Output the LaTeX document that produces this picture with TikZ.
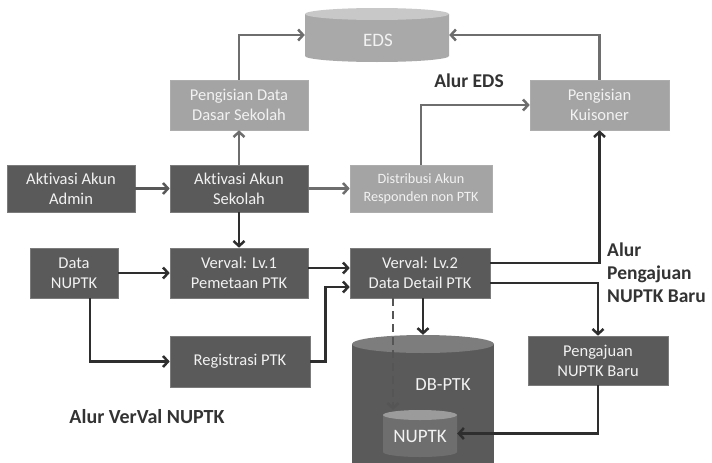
\documentclass[tikz,border=0pt]{standalone}
\usepackage{fontspec}
\setmainfont{Carlito}[Ligatures=NoCommon]
\usetikzlibrary{arrows.meta}
\definecolor{boxdark}{HTML}{5A5A5A}
\definecolor{boxlight}{HTML}{A4A4A4}
\definecolor{txtlight}{HTML}{F2F2F2}
\definecolor{linegray}{HTML}{6E6E6E}
\definecolor{linedark}{HTML}{2E2E2E}
\definecolor{dashcol}{HTML}{555555}
\definecolor{labelcol}{HTML}{333333}
\definecolor{edsbody}{HTML}{A9A9A9}
\definecolor{edstop}{HTML}{C8C8C8}
\definecolor{dbtop}{HTML}{7D7D7D}
\definecolor{nubody}{HTML}{6E6E6E}
\definecolor{nutop}{HTML}{9B9B9B}
\begin{document}
\begin{tikzpicture}[x=1pt,y=-1pt,
  darkbox/.style={fill=boxdark, draw=boxdark!80!white, line width=0.6pt, text=txtlight, align=center, font=\fontsize{16.5}{20}\selectfont, inner sep=0pt},
  lightbox/.style={fill=boxlight, draw=boxlight!90!white, line width=0.6pt, text=txtlight, align=center, font=\fontsize{16.5}{20}\selectfont, inner sep=0pt},
  anchorbox/.style={inner sep=0pt, text=txtlight},
  arrg/.style={draw=linegray, line width=2.5pt, -{Straight Barb[length=5pt,width=11pt]}},
  arrd/.style={draw=linedark, line width=2.5pt, -{Straight Barb[length=5pt,width=11pt]}},
  flowlabel/.style={text=labelcol, font=\bfseries\fontsize{19.5}{23}\selectfont, inner sep=0pt}
]
\useasboundingbox (0,0) rectangle (712,463);
\fill[white] (0,0) rectangle (712,463);

% EDS cylinder
\fill[edsbody] (305,14) -- (305,56) arc[start angle=180,end angle=0,x radius=72,y radius=6] -- (449,14) -- cycle;
\fill[edstop] (377,14) ellipse [x radius=72, y radius=6];
\node[anchorbox, minimum width=144, minimum height=54] (eds) at (377,35) {};
\node[text=txtlight, font=\fontsize{19}{22}\selectfont] at (378,40) {EDS};

% DB-PTK cylinder
\fill[boxdark] (352,344) rectangle (494,470);
\fill[dbtop] (423,344) ellipse [x radius=71, y radius=9];
\node[anchorbox, minimum width=142, minimum height=128] (dbptk) at (423,399) {};
\node[text=txtlight, font=\fontsize{18.5}{22}\selectfont] at (443,385) {DB-PTK};

% NUPTK small cylinder
\fill[nubody] (383,415) -- (383,452) arc[start angle=180,end angle=0,x radius=37,y radius=5] -- (457,415) -- cycle;
\fill[nutop] (420,415) ellipse [x radius=37, y radius=5];
\node[anchorbox, minimum width=74, minimum height=47] (nuptk) at (420,433.5) {};
\node[text=txtlight, font=\fontsize{19}{22}\selectfont] at (420,436) {NUPTK};

% boxes
\node[darkbox, minimum width=128, minimum height=47] (admin) at (71,188.5) {Aktivasi Akun\\Admin};
\node[darkbox, minimum width=138, minimum height=47] (sekolah) at (239,188.5) {Aktivasi Akun\\Sekolah};
\node[lightbox, minimum width=138, minimum height=50] (pdata) at (239,105) {Pengisian Data\\Dasar Sekolah};
\node[lightbox, minimum width=142, minimum height=47, font=\fontsize{14.2}{18}\selectfont] (distrib) at (421,188.5) {Distribusi Akun\\Responden non PTK};
\node[lightbox, minimum width=139, minimum height=50] (kuis) at (599.5,105) {Pengisian\\Kuisoner};
\node[darkbox, minimum width=88, minimum height=50] (datanuptk) at (74,273) {Data\\NUPTK};
\node[darkbox, minimum width=138, minimum height=50] (verval1) at (239,273) {Verval: Lv.1\\Pemetaan PTK};
\node[darkbox, minimum width=140, minimum height=50] (verval2) at (420,273) {Verval: Lv.2\\Data Detail PTK};
\node[darkbox, minimum width=140, minimum height=51] (regis) at (240,361.5) {Registrasi PTK};
\node[darkbox, minimum width=140, minimum height=49] (pengajuan) at (598,360.5) {Pengajuan\\NUPTK Baru};

% labels
\node[flowlabel] (lbleds) at (469,81) {Alur EDS};
\node[flowlabel, font=\bfseries\fontsize{20}{23}\selectfont] (lblverval) at (147,417) {Alur VerVal NUPTK};
\node[flowlabel, anchor=west, align=left] (lblpengajuan) at (607,272.5) {Alur\\Pengajuan\\NUPTK Baru};

% connectors (EDS flow)
\draw[arrd, draw=linegray!80!black] (admin) -- (sekolah);
\draw[arrg] (sekolah) -- (pdata);
\draw[arrg] (pdata.north) |- (eds.west);
\draw[arrg] (sekolah) -- (distrib);
\draw[arrg] (distrib.north) |- (kuis.west);
\draw[arrg] (kuis.north) |- (eds.east);

% connectors (VerVal flow)
\draw[arrd] (sekolah) -- (verval1);
\draw[arrd] (datanuptk) -- (verval1);
\draw[arrd] ([xshift=16pt]datanuptk.south) |- (regis.west);
\draw[arrd] (regis.east) -- ++(15,0) |- ([yshift=-14pt]verval2.west);
\draw[arrd] ([yshift=5pt]verval1.east) -- ([yshift=5pt]verval2.west);
\draw[arrd] ([yshift=10pt]verval2.east) -| (kuis.south);
\draw[arrd] ([yshift=-10pt]verval2.east) -| (pengajuan.north);
\draw[arrd] (verval2.south -| dbptk.north) -- (dbptk.north);
\draw[arrg, draw=dashcol, dash pattern=on 8pt off 5pt] ([xshift=-27pt]verval2.south) -- ([xshift=-27pt]verval2.south |- nuptk.north);
\draw[arrd] (pengajuan.south) |- (nuptk.east);
\end{tikzpicture}
\end{document}
